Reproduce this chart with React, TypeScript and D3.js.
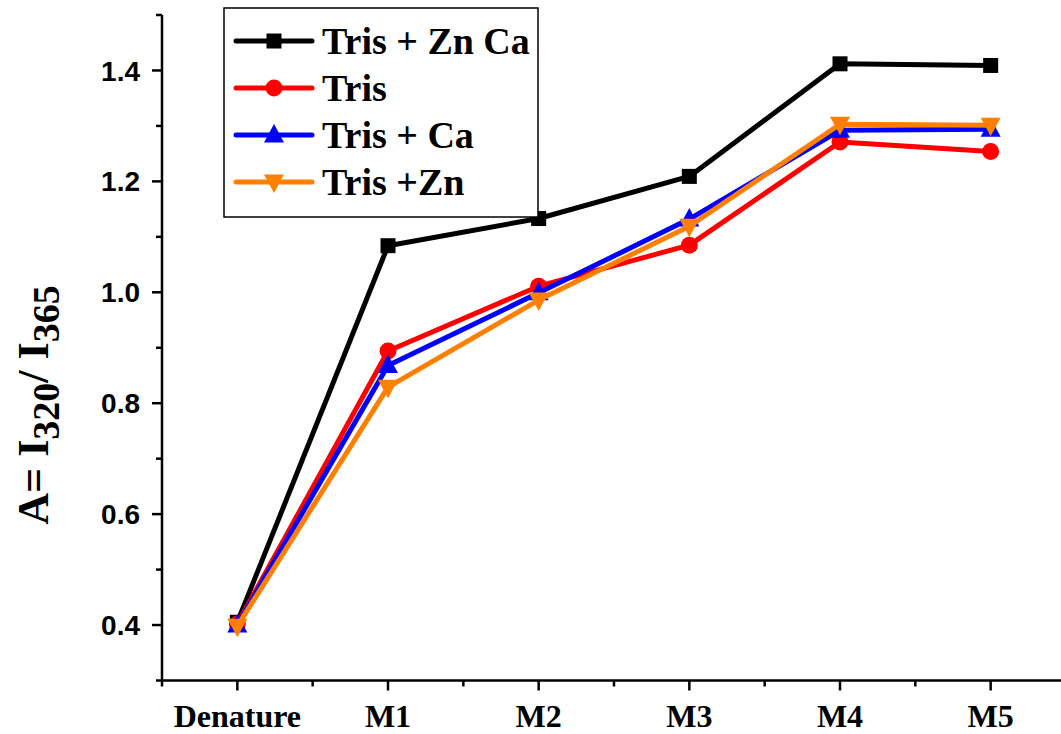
import * as d3 from "d3";
import React from "react";

const categories = ["Denature", "M1", "M2", "M3", "M4", "M5"];
const seriesNames = ["Tris + Zn Ca", "Tris", "Tris + Ca", "Tris +Zn"];
const trisZnCa = [0.405, 1.084, 1.133, 1.209, 1.412, 1.409];
const tris = [0.402, 0.894, 1.011, 1.085, 1.271, 1.254];
const trisCa = [0.400, 0.868, 0.999, 1.132, 1.292, 1.294];
const trisZn = [0.398, 0.829, 0.986, 1.119, 1.303, 1.301];
const yMajorTicks = [0.4, 0.6, 0.8, 1.0, 1.2, 1.4];
const yMinorTicks = [0.3, 0.5, 0.7, 0.9, 1.1, 1.3, 1.5];

const colors = ["#000000", "#ff0000", "#0000ff", "#ff8000"];
const markers = ["square", "circle", "triangle", "triangleDown"];

const W = 1061;
const H = 734;

function Marker({ kind, x, y, color }: { kind: string; x: number; y: number; color: string }) {
  if (kind === "square") {
    return <rect x={x - 7.5} y={y - 7.5} width={15} height={15} fill={color} />;
  }
  if (kind === "circle") {
    return <circle cx={x} cy={y} r={8.5} fill={color} />;
  }
  const s = 10;
  const pts =
    kind === "triangle"
      ? [[x, y - s - 1], [x - s, y + s * 0.75], [x + s, y + s * 0.75]]
      : [[x, y + s + 1], [x - s, y - s * 0.75], [x + s, y - s * 0.75]];
  return <polygon points={pts.map((p) => p.join(",")).join(" ")} fill={color} />;
}

const serif = { fontFamily: "'Liberation Serif', 'Times New Roman', serif", fontWeight: 700 };
const sans = { fontFamily: "'Liberation Sans', Arial, sans-serif", fontWeight: 700 };

export default function App() {
  const x = d3.scaleLinear().domain([-0.5, 5.5]).range([162, 1066]);
  const y = d3.scaleLinear().domain([0.3, 1.5]).range([680.5, 15]);
  const allSeries = [trisZnCa, tris, trisCa, trisZn];

  const line = d3
    .line<number>()
    .x((_, i) => x(i))
    .y((d) => y(d));

  const xMinor = d3.range(-0.5, 5.6, 1);

  return (
    <svg width={W} height={H} style={{ position: "absolute", left: 0, top: 0, background: "#fff" }}>
      {/* y axis */}
      <line x1={x(-0.5)} x2={x(-0.5)} y1={y(1.5)} y2={y(0.3)} stroke="#000" strokeWidth={2.5} />
      {yMajorTicks.map((t) => (
        <g key={"ym" + t}>
          <line x1={x(-0.5) - 10} x2={x(-0.5)} y1={y(t)} y2={y(t)} stroke="#000" strokeWidth={2.5} />
          <text x={140} y={y(t)} dy="0.36em" textAnchor="end" fontSize={28} style={sans}>
            {t.toFixed(1)}
          </text>
        </g>
      ))}
      {yMinorTicks.map((t) => (
        <line key={"yn" + t} x1={x(-0.5) - 6} x2={x(-0.5)} y1={y(t)} y2={y(t)} stroke="#000" strokeWidth={2.5} />
      ))}

      {/* x axis */}
      <line x1={x(-0.5) - 1} x2={W} y1={y(0.3)} y2={y(0.3)} stroke="#000" strokeWidth={2.5} />
      {categories.map((c, i) => (
        <g key={c}>
          <line x1={x(i)} x2={x(i)} y1={y(0.3)} y2={y(0.3) + 10} stroke="#000" strokeWidth={2.5} />
          <text x={x(i)} y={727} textAnchor="middle" fontSize={32} style={serif}>
            {c}
          </text>
        </g>
      ))}
      {xMinor.map((t) => (
        <line key={"xn" + t} x1={x(t)} x2={x(t)} y1={y(0.3)} y2={y(0.3) + 6} stroke="#000" strokeWidth={2.5} />
      ))}

      {/* y label */}
      <text transform={`translate(48, 405) rotate(-90)`} textAnchor="middle" fontSize={44} style={serif}>
        A= I<tspan fontSize={38} dy={11}>320</tspan>
        <tspan dy={-11}>/ I</tspan>
        <tspan fontSize={38} dy={11}>365</tspan>
      </text>

      {/* series */}
      {allSeries.map((s, k) => (
        <g key={seriesNames[k]}>
          <path d={line(s) || ""} fill="none" stroke={colors[k]} strokeWidth={5} strokeLinejoin="round" />
          {s.map((v, i) => (
            <Marker key={i} kind={markers[k]} x={x(i)} y={y(v)} color={colors[k]} />
          ))}
        </g>
      ))}

      {/* legend */}
      <rect x={224} y={8} width={314} height={209} fill="#fff" stroke="#000" strokeWidth={1.5} />
      {seriesNames.map((n, k) => {
        const ly = 41 + k * 47;
        return (
          <g key={"lg" + n}>
            <line x1={236} x2={312} y1={ly} y2={ly} stroke={colors[k]} strokeWidth={5} strokeLinecap="round" />
            <Marker kind={markers[k]} x={274} y={ly} color={colors[k]} />
            <text x={322} y={ly} dy="0.35em" fontSize={38} style={serif}>
              {n}
            </text>
          </g>
        );
      })}
    </svg>
  );
}
